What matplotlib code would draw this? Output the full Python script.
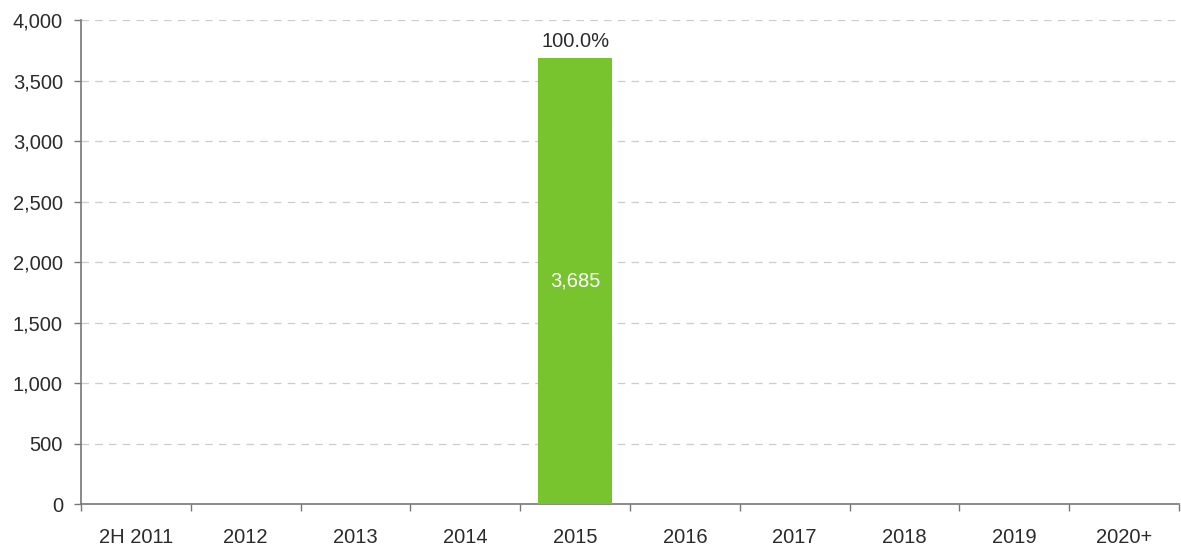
import matplotlib.pyplot as plt
import numpy as np

plt.rcParams['font.family'] = ['Liberation Sans', 'DejaVu Sans']

# Data
categories = ['2H 2011', '2012', '2013', '2014', '2015', '2016', '2017', '2018', '2019', '2020+']
values = [0, 0, 0, 0, 3685, 0, 0, 0, 0, 0]
shares = [None, None, None, None, '100.0%', None, None, None, None, None]

bar_color = '#78c42f'
text_color = '#2b2b2b'
axis_color = '#777777'
fs = 14.5

fig = plt.figure(figsize=(11.81, 5.5), dpi=100)
ax = fig.add_axes([0.0686, 0.0836, 0.9297, 0.88])

x = np.arange(len(categories))
ax.bar(x, values, width=0.67, color=bar_color, zorder=3)

# labels
for xi, v, s in zip(x, values, shares):
    if v > 0:
        ax.text(xi, v / 2, f'{v:,}', ha='center', va='center', color='white',
                fontsize=fs, zorder=4)
    if s:
        ax.text(xi, v + 60, s, ha='center', va='bottom', color=text_color,
                fontsize=fs, zorder=4)

ax.set_xlim(-0.5, len(categories) - 0.5)
ax.set_ylim(0, 4000)
ax.set_yticks(np.arange(0, 4001, 500))
ax.set_yticklabels([f'{t:,}' for t in range(0, 4001, 500)])

ax.set_xticks(x)
ax.set_xticklabels(categories)
ax.set_xticks(np.arange(-0.5, len(categories)), minor=True)
ax.tick_params(axis='x', which='major', length=0, pad=17, labelsize=fs, labelcolor=text_color)
ax.tick_params(axis='x', which='minor', length=5, color=axis_color, width=1)
ax.tick_params(axis='y', length=5, color=axis_color, width=1, pad=8, labelsize=fs, labelcolor=text_color)

ax.yaxis.grid(True, linestyle=(0, (6, 5)), color='#cccccc', linewidth=0.9, zorder=0)
ax.set_axisbelow(True)

for side in ['top', 'right']:
    ax.spines[side].set_visible(False)
for side in ['left', 'bottom']:
    ax.spines[side].set_color(axis_color)
    ax.spines[side].set_linewidth(1.2)

fig.savefig('out.png', dpi=100)
